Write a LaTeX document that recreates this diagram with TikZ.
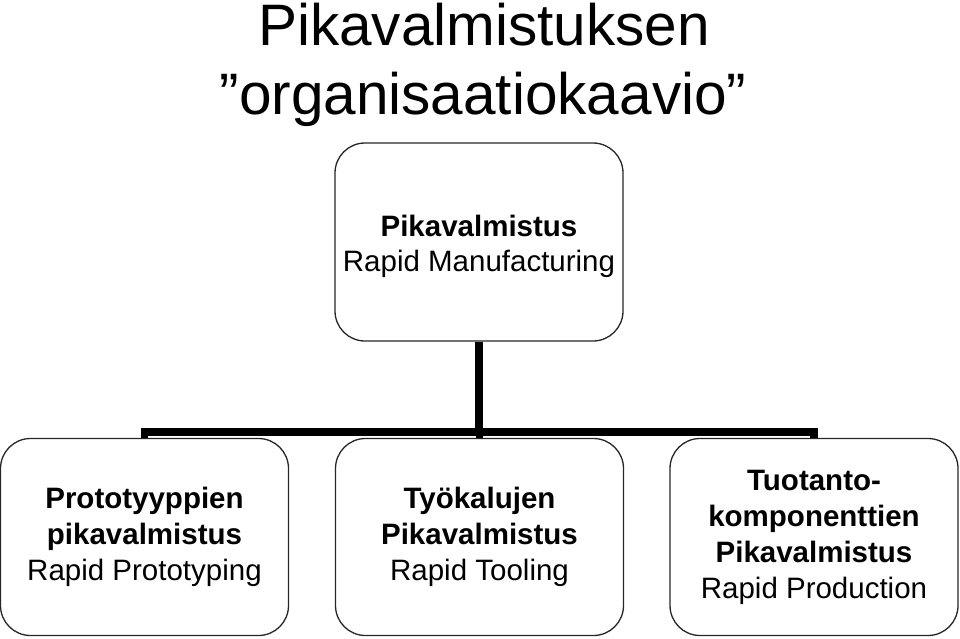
\documentclass[tikz,border=0pt]{standalone}
\usepackage{fontspec}
\setmainfont{Liberation Sans}
\begin{document}
\begin{tikzpicture}[x=1pt,y=-1pt,
  box/.style={draw=black!85,line width=1.3pt,rounded corners=30pt,minimum width=288pt,minimum height=197pt,inner sep=0pt,align=center,font=\fontsize{29.5}{36}\selectfont},
  topbox/.style={box,minimum height=198pt,font=\fontsize{29.5}{35}\selectfont},
  conn/.style={line width=7.5pt,line cap=butt},
  title/.style={font=\fontsize{58.5}{68}\selectfont,anchor=base,inner sep=0pt}]
\useasboundingbox (0,0) rectangle (960,639);
\node[title] (t1) at (484,46) {Pikavalmistuksen};
\node[title] (t2) at (483,115) {”organisaatiokaavio”};
\node[topbox] (top) at (479,242) {\raisebox{-5pt}[\height][\depth]{\begin{tabular}{@{}c@{}}\textbf{Pikavalmistus}\\Rapid Manufacturing\end{tabular}}};
\node[box] (b1) at (144.5,537) {\textbf{Prototyyppien}\\\textbf{pikavalmistus}\\Rapid Prototyping};
\node[box] (b2) at (479.5,537) {\textbf{Työkalujen}\\\textbf{Pikavalmistus}\\Rapid Tooling};
\node[box] (b3) at (814,537) {\textbf{Tuotanto-}\\\textbf{komponenttien}\\\textbf{Pikavalmistus}\\Rapid Production};
\coordinate (bar) at (479.5,432);
\draw[conn] (top.south) -- (top.south |- bar);
\draw[conn] ([xshift=-3.75pt]b1.north |- bar) -- ([xshift=3.75pt]b3.north |- bar);
\draw[conn] (b1.north |- bar) -- (b1.north);
\draw[conn] (b2.north |- bar) -- (b2.north);
\draw[conn] (b3.north |- bar) -- (b3.north);
\end{tikzpicture}
\end{document}
